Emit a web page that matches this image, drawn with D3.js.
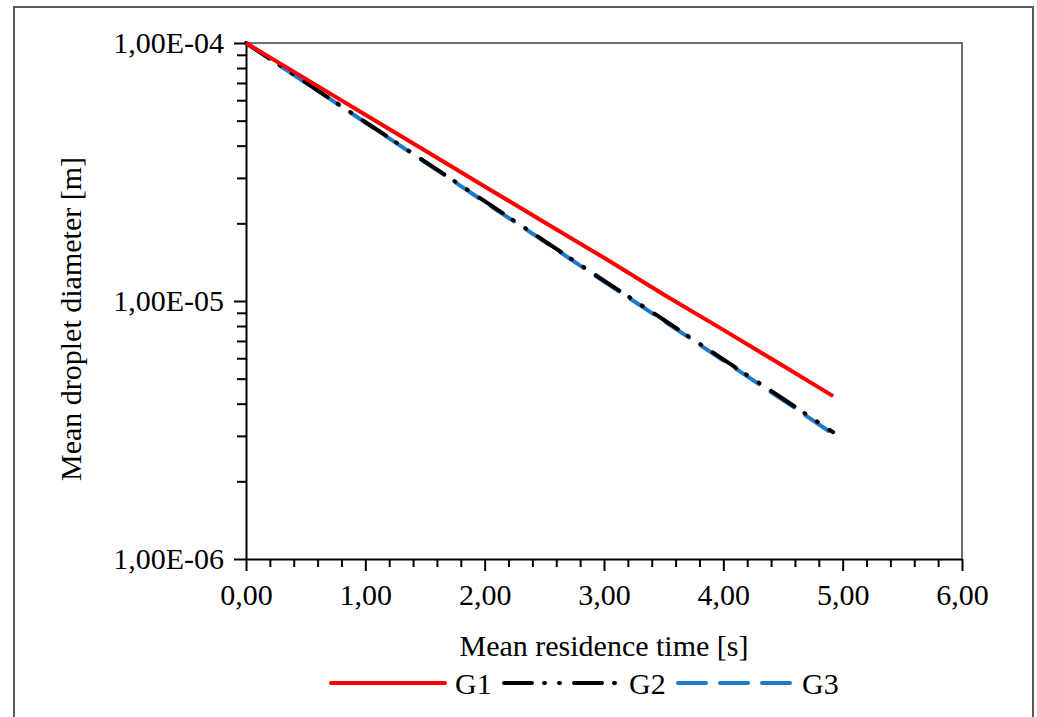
<!DOCTYPE html>
<html>
<head>
<meta charset="utf-8">
<style>
body { margin: 0; background: #fff; }
svg text { font-family: "Liberation Serif", "Times New Roman", serif; fill: #000; }
</style>
</head>
<body>
<svg width="1037" height="717"></svg>
<script src="https://d3js.org/d3.v7.min.js"></script>
<script>

// residence time [s]
var times = [0, 0.5, 1, 1.5, 2, 2.5, 3, 3.5, 4, 4.5, 4.92];
// mean droplet diameter [m]
var g1 = [1.00e-4, 7.26e-5, 5.27e-5, 3.83e-5, 2.78e-5, 2.02e-5, 1.47e-5, 1.06e-5, 7.73e-6, 5.61e-6, 4.28e-6];
var g2 = [1.00e-4, 7.03e-5, 4.94e-5, 3.47e-5, 2.44e-5, 1.71e-5, 1.20e-5, 8.46e-6, 5.94e-6, 4.18e-6, 3.10e-6];
var g3 = [1.00e-4, 7.00e-5, 4.92e-5, 3.45e-5, 2.42e-5, 1.70e-5, 1.19e-5, 8.38e-6, 5.88e-6, 4.13e-6, 3.05e-6];
var seriesNames = ["G1", "G2", "G3"];
var xTicks = [0, 1, 2, 3, 4, 5, 6];
var yTicks = [1e-6, 1e-5, 1e-4];

var svg = d3.select("svg"),
    margin = {top: 43, right: 75, bottom: 158, left: 246},
    width = 1037 - margin.left - margin.right,
    height = 717 - margin.top - margin.bottom;

var fs = 30;

// outer frame (no bottom edge)
svg.append("path")
    .attr("d", "M14,717 L14,7 L1033,7 L1033,717")
    .attr("fill", "none")
    .attr("stroke", "#5a5a5a")
    .attr("stroke-width", 2);

var g = svg.append("g")
    .attr("transform", "translate(" + margin.left + "," + margin.top + ")");

var x = d3.scaleLinear().domain([0, 6]).range([0, width]);
var y = d3.scaleLog().domain([1e-6, 1e-4]).range([height, 0]);

var comma = function(v) { return d3.format(".2f")(v).replace(".", ","); };
var sci = function(v) {
  var e = Math.round(Math.log10(v));
  return "1,00E-" + ("0" + (-e)).slice(-2);
};

// plot box top and right
g.append("path")
    .attr("d", "M0,0 H" + width + " V" + height)
    .attr("fill", "none")
    .attr("stroke", "#404040")
    .attr("stroke-width", 1.5);

// minor ticks
var xMinor = d3.range(0, 30).map(function(i) { return i * 0.2; }).filter(function(v) { return Math.abs(v - Math.round(v)) > 1e-6; });
g.append("g")
    .attr("transform", "translate(0," + height + ")")
    .call(d3.axisBottom(x).tickValues(xMinor).tickSize(8).tickFormat(""))
    .call(function(s) { s.select(".domain").remove(); s.selectAll("line").attr("stroke-width", 2); });

var yMinor = [];
[1e-6, 1e-5].forEach(function(d) { for (var k = 2; k <= 9; k++) yMinor.push(d * k); });
g.append("g")
    .call(d3.axisLeft(y).tickValues(yMinor).tickSize(9).tickFormat(""))
    .call(function(s) { s.select(".domain").remove(); s.selectAll("line").attr("stroke-width", 2); });

// major axes
var xAxis = g.append("g")
    .attr("transform", "translate(0," + height + ")")
    .call(d3.axisBottom(x).tickValues(xTicks).tickSize(12).tickSizeOuter(0).tickPadding(13).tickFormat(comma));
var yAxis = g.append("g")
    .call(d3.axisLeft(y).tickValues(yTicks).tickSize(12).tickSizeOuter(0).tickPadding(10).tickFormat(sci));

[xAxis, yAxis].forEach(function(a) {
  a.select(".domain").attr("stroke", "#000").attr("stroke-width", 2);
  a.selectAll("line").attr("stroke", "#000").attr("stroke-width", 2);
  a.selectAll("text").attr("font-size", fs).attr("fill", "#000");
});
xAxis.selectAll("text").attr("dy", "0.71em");

// lines
var styles = {
  G1: {color: "#ff0000", dash: null},
  G2: {color: "#000000", dash: "28,12,1,14,1,14"},
  G3: {color: "#1f78c8", dash: "28,14"}
};
var seriesData = {G1: g1, G2: g2, G3: g3};

var line = d3.line()
    .x(function(d) { return x(d[0]); })
    .y(function(d) { return y(d[1]); });

["G3", "G2", "G1"].forEach(function(name) {
  var pts = times.map(function(t, i) { return [t, seriesData[name][i]]; });
  g.append("path")
      .datum(pts)
      .attr("d", line)
      .attr("fill", "none")
      .attr("stroke", styles[name].color)
      .attr("stroke-width", 4)
      .attr("stroke-linecap", name === "G1" ? "butt" : "round")
      .attr("stroke-dasharray", styles[name].dash);
});

// axis titles
svg.append("text")
    .attr("x", margin.left + width / 2)
    .attr("y", 656)
    .attr("text-anchor", "middle")
    .attr("font-size", fs)
    .text("Mean residence time [s]");

svg.append("text")
    .attr("transform", "translate(81,319) rotate(-90)")
    .attr("text-anchor", "middle")
    .attr("font-size", fs)
    .text("Mean droplet diameter [m]");

// legend
var legendX = [331, 504, 678];
var legend = svg.append("g");
seriesNames.forEach(function(name, i) {
  var lx = legendX[i];
  legend.append("line")
      .attr("x1", lx).attr("x2", lx + (i === 1 ? 118 : 114))
      .attr("y1", 683).attr("y2", 683)
      .attr("stroke", styles[name].color)
      .attr("stroke-width", 4)
      .attr("stroke-linecap", "round")
      .attr("stroke-dasharray", styles[name].dash);
  legend.append("text")
      .attr("x", lx + (i === 1 ? 125 : 124))
      .attr("y", 694)
      .attr("font-size", fs)
      .text(name);
});
</script>
</body>
</html>
